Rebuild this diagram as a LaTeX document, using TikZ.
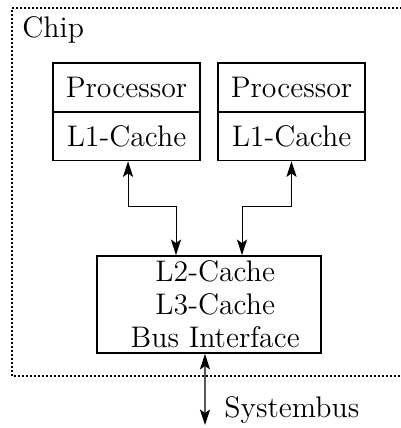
\documentclass[tikz,border=0pt]{standalone}
\usetikzlibrary{arrows.meta}
\begin{document}
\begin{tikzpicture}[x=0.45pt,y=-0.45pt,
  every node/.style={font={\fontsize{13.4}{14.85}\selectfont}, inner sep=0pt},
  cell/.style={draw, line width=0.85pt, minimum width=66.15pt, minimum height=22pt},
  bigbox/.style={draw, line width=0.85pt, minimum width=100.8pt, minimum height=43.65pt, align=center},
  link/.style={{Stealth[length=7pt,width=4.6pt,inset=1.6pt]}-{Stealth[length=7pt,width=4.6pt,inset=1.6pt]}, line width=0.45pt},
  buslink/.style={{Stealth[length=7pt,width=4.6pt,inset=1.6pt]}-{Stealth[length=7pt,width=4.6pt,inset=1.6pt]}, line width=0.6pt},
  chipframe/.style={line width=0.9pt, dash pattern=on 0.9pt off 0.9pt}]
  \useasboundingbox (0,0) rectangle (401,428);
  % chip boundary (right side runs past the page edge)
  \draw[chipframe] (410,8) -- (12,8) -- (12,376) -- (410,376);
  \node[anchor=west] (chip) at (22,30) {Chip};
  % two cores: processor with its L1 cache
  \node[cell] (p1) at (126.5,87.5) {Processor};
  \node[cell] (c1) at (126.5,136) {L1-Cache};
  \node[cell] (p2) at (291.5,87.5) {Processor};
  \node[cell] (c2) at (291.5,136) {L1-Cache};
  % shared caches and bus interface (text sits a little right of centre)
  \node[bigbox] (L) at (209,304.5)
    {\hspace*{5.6pt}L2-Cache\\\hspace*{5.6pt}L3-Cache\\\hspace*{5.6pt}Bus Interface};
  % connections
  \coordinate (j1) at (128,206);
  \coordinate (j2) at (291,206);
  \draw[link] ([xshift=0.7pt]c1.south) -- ([xshift=0.7pt]c1.south |- j1) -| ([xshift=-14.85pt]L.north);
  \draw[link] (c2.south) -- (c2.south |- j2) -| ([xshift=14.85pt]L.north);
  \coordinate (busend) at (205,425);
  \draw[buslink] ([xshift=-1.8pt]L.south) -- (busend);
  \node[anchor=west] (sb) at (224,410) {Systembus};
\end{tikzpicture}
\end{document}
